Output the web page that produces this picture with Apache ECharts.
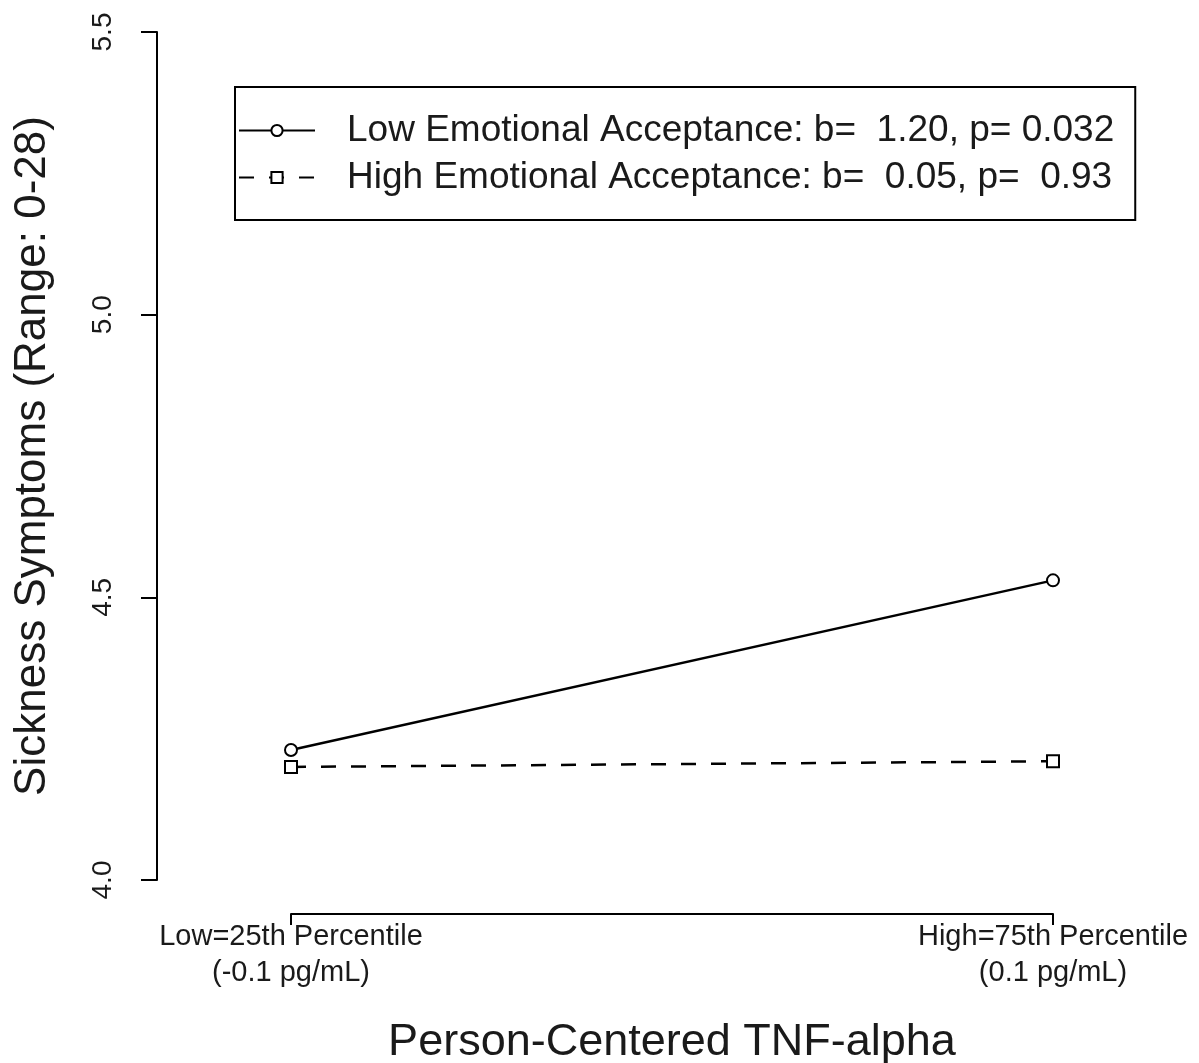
<!DOCTYPE html>
<html>
<head>
<meta charset="utf-8">
<script src="https://cdn.jsdelivr.net/npm/echarts@6/dist/echarts.min.js"></script>
<style>
    html, body { margin: 0; padding: 0; background: #fff; }
    #chart { width: 1199px; height: 1063px; }
</style>
</head>
<body>
<div id="chart"></div>
<script>
//---------------------------Data---------------------------
let xPositions = [0, 1];
let xTickLabels = ["Low=25th Percentile\n(-0.1 pg/mL)", "High=75th Percentile\n(0.1 pg/mL)"];
let yTicks = [4.0, 4.5, 5.0, 5.5];

let lowName = "Low Emotional Acceptance: b=  1.20, p= 0.032";
let lowValues = [4.23, 4.53];
let highName = "High Emotional Acceptance: b=  0.05, p=  0.93";
let highValues = [4.20, 4.21];

let font = "Liberation Sans, Arial, sans-serif";
let ink = "#1a1a1a";

//---------------------------Chart---------------------------
let chart = echarts.init(document.getElementById('chart'));

function pairs(values) {
    let out = [];
    for (let i = 0; i < values.length; i++) {
        out.push([xPositions[i], values[i]]);
    }
    return out;
}

let option = {
    backgroundColor: '#fff',
    animation: false,
    grid: { left: 291, right: 146, top: 32, bottom: 183, outerBoundsMode: 'none', containLabel: false },
    legend: {
        orient: 'vertical',
        left: 235,
        top: 87,
        padding: [25, 21, 24, 3],
        itemWidth: 76,
        itemHeight: 14,
        itemGap: 10,
        borderColor: '#000',
        borderWidth: 2,
        textStyle: { fontFamily: font, fontSize: 37, color: ink, padding: [0, 0, 0, 27] },
        data: [lowName, highName]
    },
    xAxis: {
        type: 'value',
        min: 0,
        max: 1,
        interval: 1,
        offset: 34,
        splitLine: { show: false },
        axisLine: { show: true, onZero: false, lineStyle: { color: '#000', width: 2 } },
        axisTick: { show: true, length: 11, lineStyle: { color: '#000', width: 2 } },
        axisLabel: {
            margin: 5,
            fontFamily: font,
            fontSize: 29,
            lineHeight: 36,
            color: ink,
            formatter: function (v) {
                let i = xPositions.indexOf(v);
                return i >= 0 ? xTickLabels[i] : '';
            }
        },
        name: 'Person-Centered TNF-alpha',
        nameLocation: 'middle',
        nameGap: 106,
        nameTextStyle: { fontFamily: font, fontSize: 45, color: ink }
    },
    yAxis: {
        type: 'value',
        min: 4,
        max: 5.5,
        interval: 0.5,
        offset: 134,
        splitLine: { show: false },
        axisLine: { show: true, onZero: false, lineStyle: { color: '#000', width: 2 } },
        axisTick: { show: true, length: 16, lineStyle: { color: '#000', width: 2 } },
        axisLabel: {
            rotate: 90,
            margin: 40,
            fontFamily: font,
            fontSize: 28,
            color: ink,
            formatter: function (v) { return v.toFixed(1); }
        },
        name: 'Sickness Symptoms (Range: 0-28)',
        nameLocation: 'middle',
        nameGap: 102,
        nameTextStyle: { fontFamily: font, fontSize: 44, color: ink }
    },
    series: [
        {
            name: lowName,
            type: 'line',
            data: pairs(lowValues),
            clip: false,
            symbol: 'emptyCircle',
            symbolSize: 12,
            lineStyle: { color: '#000', width: 2.5 },
            itemStyle: { color: '#000', borderColor: '#000', borderWidth: 2.5 }
        },
        {
            name: highName,
            type: 'line',
            data: pairs(highValues),
            clip: false,
            symbol: 'emptyRect',
            symbolSize: 12,
            lineStyle: { color: '#000', width: 2.5, type: [15, 15] },
            itemStyle: { color: '#000', borderColor: '#000', borderWidth: 2.5 }
        }
    ]
};

chart.setOption(option);
</script>
</body>
</html>
